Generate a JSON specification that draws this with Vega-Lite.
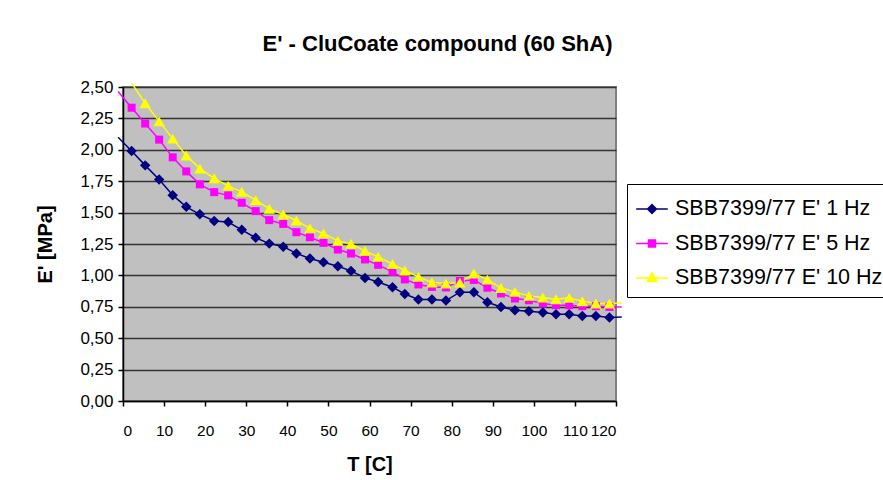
{
  "$schema": "https://vega.github.io/schema/vega-lite/v6.json",
  "width": 493,
  "height": 314,
  "autosize": {"type": "none"},
  "padding": {"left": 123, "top": 87, "right": 267, "bottom": 79},
  "background": "white",
  "title": {
    "text": "E' - CluCoate compound (60 ShA)",
    "font": "Liberation Sans",
    "fontSize": 22,
    "fontWeight": "bold",
    "color": "black",
    "anchor": "middle",
    "dx": 68,
    "offset": 22
  },
  "config": {
    "locale": {"number": {"decimal": ",", "thousands": ".", "grouping": [3], "currency": ["", ""]}},
    "view": {"fill": "#C0C0C0", "stroke": "#808080", "strokeWidth": 2},
    "axis": {
      "labelFont": "Liberation Sans",
      "labelFontSize": 17,
      "labelColor": "black",
      "labelOverlap": false,
      "titleFont": "Liberation Sans",
      "titleFontSize": 20,
      "titleFontWeight": "bold",
      "titleColor": "black",
      "domainColor": "black",
      "domainWidth": 1.5,
      "tickColor": "black",
      "tickWidth": 1.5,
      "tickSize": 5,
      "gridColor": "#333333",
      "gridWidth": 1.5
    }
  },
  "data": {
    "values": [
      {"T": -1.2, "E": 2.10, "series": "SBB7399/77 E' 1 Hz"},
      {"T": 2.1, "E": 1.99, "series": "SBB7399/77 E' 1 Hz"},
      {"T": 5.4, "E": 1.876, "series": "SBB7399/77 E' 1 Hz"},
      {"T": 8.8, "E": 1.763, "series": "SBB7399/77 E' 1 Hz"},
      {"T": 12.1, "E": 1.639, "series": "SBB7399/77 E' 1 Hz"},
      {"T": 15.4, "E": 1.546, "series": "SBB7399/77 E' 1 Hz"},
      {"T": 18.7, "E": 1.486, "series": "SBB7399/77 E' 1 Hz"},
      {"T": 22.2, "E": 1.434, "series": "SBB7399/77 E' 1 Hz"},
      {"T": 25.6, "E": 1.425, "series": "SBB7399/77 E' 1 Hz"},
      {"T": 28.9, "E": 1.363, "series": "SBB7399/77 E' 1 Hz"},
      {"T": 32.3, "E": 1.300, "series": "SBB7399/77 E' 1 Hz"},
      {"T": 35.6, "E": 1.253, "series": "SBB7399/77 E' 1 Hz"},
      {"T": 39.0, "E": 1.229, "series": "SBB7399/77 E' 1 Hz"},
      {"T": 42.2, "E": 1.175, "series": "SBB7399/77 E' 1 Hz"},
      {"T": 45.5, "E": 1.135, "series": "SBB7399/77 E' 1 Hz"},
      {"T": 48.8, "E": 1.105, "series": "SBB7399/77 E' 1 Hz"},
      {"T": 52.3, "E": 1.073, "series": "SBB7399/77 E' 1 Hz"},
      {"T": 55.5, "E": 1.036, "series": "SBB7399/77 E' 1 Hz"},
      {"T": 58.9, "E": 0.980, "series": "SBB7399/77 E' 1 Hz"},
      {"T": 62.1, "E": 0.948, "series": "SBB7399/77 E' 1 Hz"},
      {"T": 65.6, "E": 0.906, "series": "SBB7399/77 E' 1 Hz"},
      {"T": 68.6, "E": 0.852, "series": "SBB7399/77 E' 1 Hz"},
      {"T": 71.9, "E": 0.808, "series": "SBB7399/77 E' 1 Hz"},
      {"T": 75.2, "E": 0.808, "series": "SBB7399/77 E' 1 Hz"},
      {"T": 78.6, "E": 0.800, "series": "SBB7399/77 E' 1 Hz"},
      {"T": 82.0, "E": 0.866, "series": "SBB7399/77 E' 1 Hz"},
      {"T": 85.4, "E": 0.866, "series": "SBB7399/77 E' 1 Hz"},
      {"T": 88.7, "E": 0.786, "series": "SBB7399/77 E' 1 Hz"},
      {"T": 92.0, "E": 0.749, "series": "SBB7399/77 E' 1 Hz"},
      {"T": 95.4, "E": 0.723, "series": "SBB7399/77 E' 1 Hz"},
      {"T": 98.8, "E": 0.715, "series": "SBB7399/77 E' 1 Hz"},
      {"T": 102.2, "E": 0.704, "series": "SBB7399/77 E' 1 Hz"},
      {"T": 105.4, "E": 0.691, "series": "SBB7399/77 E' 1 Hz"},
      {"T": 108.6, "E": 0.691, "series": "SBB7399/77 E' 1 Hz"},
      {"T": 111.8, "E": 0.677, "series": "SBB7399/77 E' 1 Hz"},
      {"T": 115.1, "E": 0.677, "series": "SBB7399/77 E' 1 Hz"},
      {"T": 118.4, "E": 0.665, "series": "SBB7399/77 E' 1 Hz"},
      {"T": 121.4, "E": 0.669, "series": "SBB7399/77 E' 1 Hz"},

      {"T": -1.2, "E": 2.465, "series": "SBB7399/77 E' 5 Hz"},
      {"T": 2.1, "E": 2.335, "series": "SBB7399/77 E' 5 Hz"},
      {"T": 5.4, "E": 2.209, "series": "SBB7399/77 E' 5 Hz"},
      {"T": 8.8, "E": 2.081, "series": "SBB7399/77 E' 5 Hz"},
      {"T": 12.1, "E": 1.940, "series": "SBB7399/77 E' 5 Hz"},
      {"T": 15.4, "E": 1.828, "series": "SBB7399/77 E' 5 Hz"},
      {"T": 18.7, "E": 1.725, "series": "SBB7399/77 E' 5 Hz"},
      {"T": 22.2, "E": 1.663, "series": "SBB7399/77 E' 5 Hz"},
      {"T": 25.6, "E": 1.637, "series": "SBB7399/77 E' 5 Hz"},
      {"T": 28.9, "E": 1.578, "series": "SBB7399/77 E' 5 Hz"},
      {"T": 32.3, "E": 1.512, "series": "SBB7399/77 E' 5 Hz"},
      {"T": 35.6, "E": 1.440, "series": "SBB7399/77 E' 5 Hz"},
      {"T": 39.0, "E": 1.410, "series": "SBB7399/77 E' 5 Hz"},
      {"T": 42.2, "E": 1.344, "series": "SBB7399/77 E' 5 Hz"},
      {"T": 45.5, "E": 1.304, "series": "SBB7399/77 E' 5 Hz"},
      {"T": 48.8, "E": 1.259, "series": "SBB7399/77 E' 5 Hz"},
      {"T": 52.3, "E": 1.206, "series": "SBB7399/77 E' 5 Hz"},
      {"T": 55.5, "E": 1.174, "series": "SBB7399/77 E' 5 Hz"},
      {"T": 58.9, "E": 1.127, "series": "SBB7399/77 E' 5 Hz"},
      {"T": 62.1, "E": 1.084, "series": "SBB7399/77 E' 5 Hz"},
      {"T": 65.6, "E": 1.028, "series": "SBB7399/77 E' 5 Hz"},
      {"T": 68.6, "E": 0.968, "series": "SBB7399/77 E' 5 Hz"},
      {"T": 71.9, "E": 0.928, "series": "SBB7399/77 E' 5 Hz"},
      {"T": 75.2, "E": 0.908, "series": "SBB7399/77 E' 5 Hz"},
      {"T": 78.6, "E": 0.904, "series": "SBB7399/77 E' 5 Hz"},
      {"T": 82.0, "E": 0.956, "series": "SBB7399/77 E' 5 Hz"},
      {"T": 85.4, "E": 0.964, "series": "SBB7399/77 E' 5 Hz"},
      {"T": 88.7, "E": 0.902, "series": "SBB7399/77 E' 5 Hz"},
      {"T": 92.0, "E": 0.856, "series": "SBB7399/77 E' 5 Hz"},
      {"T": 95.4, "E": 0.816, "series": "SBB7399/77 E' 5 Hz"},
      {"T": 98.8, "E": 0.802, "series": "SBB7399/77 E' 5 Hz"},
      {"T": 102.2, "E": 0.776, "series": "SBB7399/77 E' 5 Hz"},
      {"T": 105.4, "E": 0.763, "series": "SBB7399/77 E' 5 Hz"},
      {"T": 108.6, "E": 0.763, "series": "SBB7399/77 E' 5 Hz"},
      {"T": 111.8, "E": 0.755, "series": "SBB7399/77 E' 5 Hz"},
      {"T": 115.1, "E": 0.755, "series": "SBB7399/77 E' 5 Hz"},
      {"T": 118.4, "E": 0.749, "series": "SBB7399/77 E' 5 Hz"},
      {"T": 121.4, "E": 0.749, "series": "SBB7399/77 E' 5 Hz"},

      {"T": 2.1, "E": 2.531, "series": "SBB7399/77 E' 10 Hz"},
      {"T": 5.4, "E": 2.371, "series": "SBB7399/77 E' 10 Hz"},
      {"T": 8.8, "E": 2.226, "series": "SBB7399/77 E' 10 Hz"},
      {"T": 12.1, "E": 2.089, "series": "SBB7399/77 E' 10 Hz"},
      {"T": 15.4, "E": 1.955, "series": "SBB7399/77 E' 10 Hz"},
      {"T": 18.7, "E": 1.850, "series": "SBB7399/77 E' 10 Hz"},
      {"T": 22.2, "E": 1.773, "series": "SBB7399/77 E' 10 Hz"},
      {"T": 25.6, "E": 1.713, "series": "SBB7399/77 E' 10 Hz"},
      {"T": 28.9, "E": 1.665, "series": "SBB7399/77 E' 10 Hz"},
      {"T": 32.3, "E": 1.599, "series": "SBB7399/77 E' 10 Hz"},
      {"T": 35.6, "E": 1.531, "series": "SBB7399/77 E' 10 Hz"},
      {"T": 39.0, "E": 1.485, "series": "SBB7399/77 E' 10 Hz"},
      {"T": 42.2, "E": 1.437, "series": "SBB7399/77 E' 10 Hz"},
      {"T": 45.5, "E": 1.374, "series": "SBB7399/77 E' 10 Hz"},
      {"T": 48.8, "E": 1.334, "series": "SBB7399/77 E' 10 Hz"},
      {"T": 52.3, "E": 1.275, "series": "SBB7399/77 E' 10 Hz"},
      {"T": 55.5, "E": 1.251, "series": "SBB7399/77 E' 10 Hz"},
      {"T": 58.9, "E": 1.195, "series": "SBB7399/77 E' 10 Hz"},
      {"T": 62.1, "E": 1.147, "series": "SBB7399/77 E' 10 Hz"},
      {"T": 65.6, "E": 1.091, "series": "SBB7399/77 E' 10 Hz"},
      {"T": 68.6, "E": 1.039, "series": "SBB7399/77 E' 10 Hz"},
      {"T": 71.9, "E": 0.988, "series": "SBB7399/77 E' 10 Hz"},
      {"T": 75.2, "E": 0.943, "series": "SBB7399/77 E' 10 Hz"},
      {"T": 78.6, "E": 0.935, "series": "SBB7399/77 E' 10 Hz"},
      {"T": 82.0, "E": 0.942, "series": "SBB7399/77 E' 10 Hz"},
      {"T": 85.4, "E": 1.015, "series": "SBB7399/77 E' 10 Hz"},
      {"T": 88.7, "E": 0.966, "series": "SBB7399/77 E' 10 Hz"},
      {"T": 92.0, "E": 0.900, "series": "SBB7399/77 E' 10 Hz"},
      {"T": 95.4, "E": 0.869, "series": "SBB7399/77 E' 10 Hz"},
      {"T": 98.8, "E": 0.837, "series": "SBB7399/77 E' 10 Hz"},
      {"T": 102.2, "E": 0.824, "series": "SBB7399/77 E' 10 Hz"},
      {"T": 105.4, "E": 0.810, "series": "SBB7399/77 E' 10 Hz"},
      {"T": 108.6, "E": 0.821, "series": "SBB7399/77 E' 10 Hz"},
      {"T": 111.8, "E": 0.794, "series": "SBB7399/77 E' 10 Hz"},
      {"T": 115.1, "E": 0.776, "series": "SBB7399/77 E' 10 Hz"},
      {"T": 118.4, "E": 0.776, "series": "SBB7399/77 E' 10 Hz"},
      {"T": 121.4, "E": 0.781, "series": "SBB7399/77 E' 10 Hz"}
    ]
  },
  "encoding": {
    "x": {
      "field": "T",
      "type": "quantitative",
      "scale": {"domain": [0, 120], "nice": false, "zero": false},
      "axis": {
        "title": "T [C]",
        "values": [0, 10, 20, 30, 40, 50, 60, 70, 80, 90, 100, 110, 120],
        "grid": false,
        "labelFontSize": 15.5,
        "labelPadding": 17,
        "titlePadding": 16
      }
    },
    "y": {
      "field": "E",
      "type": "quantitative",
      "scale": {"domain": [0, 2.5], "nice": false},
      "axis": {
        "title": "E' [MPa]",
        "values": [0, 0.25, 0.5, 0.75, 1, 1.25, 1.5, 1.75, 2, 2.25, 2.5],
        "format": ".2f",
        "labelPadding": 5,
        "titleX": -78,
        "titleY": 157,
        "titleAlign": "center",
        "titleBaseline": "middle"
      }
    },
    "color": {
      "field": "series",
      "type": "nominal",
      "scale": {
        "domain": ["SBB7399/77 E' 1 Hz", "SBB7399/77 E' 5 Hz", "SBB7399/77 E' 10 Hz"],
        "range": ["#000080", "#FF00FF", "#FFFF00"]
      }
    }
  },
  "layer": [
    {
      "mark": {"type": "line", "strokeWidth": 1.5}
    },
    {
      "transform": [{"filter": "false"}],
      "mark": {"type": "point", "filled": true, "opacity": 1, "strokeWidth": 1.5},
      "encoding": {
        "color": {
          "field": "series",
          "type": "nominal",
          "legend": {
            "title": null,
            "orient": "none",
            "legendX": 504,
            "legendY": 97,
            "direction": "vertical",
            "strokeColor": "black",
            "fillColor": "white",
            "padding": 8,
            "symbolSize": 1000,
            "symbolStrokeWidth": 1.5,
            "labelFont": "Liberation Sans",
            "labelFontSize": 21.5,
            "labelColor": "black",
            "labelOffset": 6,
            "rowPadding": 6.5,
            "labelLimit": 400
          }
        },
        "shape": {
          "field": "series",
          "type": "nominal",
          "scale": {
            "domain": ["SBB7399/77 E' 1 Hz", "SBB7399/77 E' 5 Hz", "SBB7399/77 E' 10 Hz"],
            "range": [
              "M-1,0H1M0,-0.28L0.28,0L0,0.28L-0.28,0Z",
              "M-1,0H1M-0.22,-0.22H0.22V0.22H-0.22Z",
              "M-1,0H1M0,-0.32L0.3,0.22L-0.3,0.22Z"
            ]
          }
        },
        "stroke": {
          "field": "series",
          "type": "nominal",
          "scale": {
            "domain": ["SBB7399/77 E' 1 Hz", "SBB7399/77 E' 5 Hz", "SBB7399/77 E' 10 Hz"],
            "range": ["#000080", "#FF00FF", "#FFFF00"]
          }
        }
      }
    },
    {
      "transform": [
        {"filter": {"field": "series", "equal": "SBB7399/77 E' 1 Hz"}},
        {"filter": "datum.T >= 0 && datum.T <= 120 && datum.E <= 2.5"}
      ],
      "mark": {"type": "point", "shape": "diamond", "size": 110, "filled": true, "opacity": 1, "strokeWidth": 0}
    },
    {
      "transform": [
        {"filter": {"field": "series", "equal": "SBB7399/77 E' 5 Hz"}},
        {"filter": "datum.T >= 0 && datum.T <= 120 && datum.E <= 2.5"}
      ],
      "mark": {"type": "point", "shape": "square", "size": 64, "filled": true, "opacity": 1, "strokeWidth": 0}
    },
    {
      "transform": [
        {"filter": {"field": "series", "equal": "SBB7399/77 E' 10 Hz"}},
        {"filter": "datum.T >= 0 && datum.T <= 120 && datum.E <= 2.5"}
      ],
      "mark": {"type": "point", "shape": "triangle-up", "size": 130, "filled": true, "opacity": 1, "strokeWidth": 0}
    }
  ]
}
